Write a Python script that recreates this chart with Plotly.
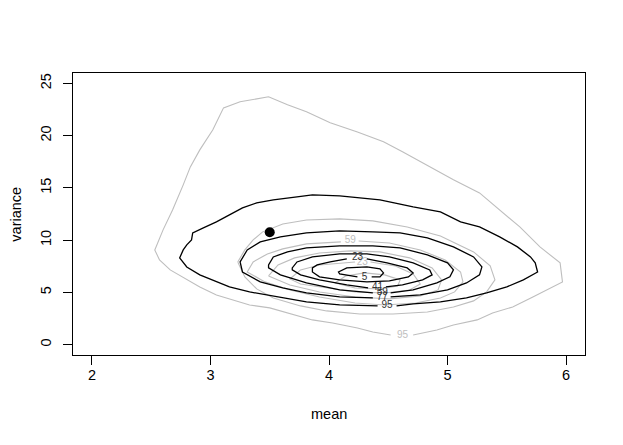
import plotly.graph_objects as go

# ---- data ----
black_levels = ["95", "77", "59", "41", "23", "5"]
black95_x = [4.41, 4.09, 3.81, 3.53, 3.33, 3.16, 3.05, 2.91, 2.80, 2.74, 2.77, 2.80, 2.84, 2.85, 2.94, 3.05, 3.16, 3.27, 3.39, 3.53, 3.73, 3.86, 4.09, 4.26, 4.43, 4.71, 4.94, 5.11, 5.27, 5.44, 5.59, 5.70, 5.74, 5.76, 5.64, 5.50, 5.33, 5.16, 4.94, 4.71, 4.57]
black95_y = [3.70, 3.79, 4.08, 4.66, 5.04, 5.52, 6.00, 6.67, 7.43, 8.30, 9.06, 9.54, 10.02, 10.69, 11.17, 11.74, 12.41, 13.08, 13.56, 13.85, 14.14, 14.33, 14.23, 14.04, 13.85, 13.18, 12.70, 11.74, 11.26, 10.31, 9.35, 8.39, 7.82, 6.95, 6.19, 5.52, 4.94, 4.46, 4.08, 3.89, 3.70]
black77_x = [4.37, 4.09, 3.81, 3.61, 3.42, 3.27, 3.25, 3.31, 3.42, 3.59, 3.81, 4.09, 4.37, 4.60, 4.83, 5.05, 5.22, 5.29, 5.27, 5.16, 5.00, 4.77, 4.52]
black77_y = [4.46, 4.56, 4.94, 5.42, 6.00, 6.95, 7.91, 9.06, 9.83, 10.31, 10.69, 10.88, 10.79, 10.69, 10.21, 9.35, 8.39, 7.43, 6.67, 5.90, 5.23, 4.75, 4.56]
black59_x = [4.37, 4.09, 3.81, 3.59, 3.49, 3.49, 3.53, 3.65, 3.81, 4.09, 4.37, 4.60, 4.83, 5.00, 5.05, 5.02, 4.91, 4.71, 4.52]
black59_y = [4.94, 5.23, 5.90, 6.67, 7.34, 7.62, 8.39, 8.87, 9.25, 9.44, 9.44, 9.25, 8.58, 7.82, 7.15, 6.48, 5.90, 5.23, 4.94]
black41_x = [4.33, 4.15, 3.92, 3.76, 3.69, 3.69, 3.73, 3.86, 4.09, 4.32, 4.51, 4.71, 4.85, 4.87, 4.79, 4.62, 4.48]
black41_y = [5.42, 5.71, 6.19, 6.67, 7.15, 7.34, 7.91, 8.39, 8.68, 8.68, 8.39, 7.82, 7.15, 6.67, 6.19, 5.71, 5.52]
black23_x = [4.32, 4.49, 4.66, 4.71, 4.67, 4.51, 4.32, 4.09, 3.92, 3.86, 3.86, 3.90, 4.01, 4.15]
black23_y = [8.20, 7.82, 7.34, 6.86, 6.48, 6.09, 6.00, 6.19, 6.48, 6.95, 7.34, 7.62, 7.91, 8.20]
black5_x = [4.24, 4.09, 4.08, 4.15, 4.32, 4.43, 4.46, 4.43, 4.36]
black5_y = [6.48, 6.76, 6.95, 7.34, 7.43, 7.24, 6.86, 6.48, 6.48]

gray95_x = [4.52, 4.37, 4.24, 4.03, 3.86, 3.50, 3.33, 3.19, 3.05, 2.91, 2.77, 2.66, 2.57, 2.53, 2.60, 2.68, 2.77, 2.83, 2.91, 3.02, 3.11, 3.25, 3.49, 3.65, 3.81, 4.01, 4.24, 4.46, 4.62, 4.79, 5.05, 5.27, 5.44, 5.61, 5.78, 5.95, 5.97, 5.84, 5.72, 5.55, 5.38, 5.25, 5.05, 4.91, 4.71]
gray95_y = [0.92, 1.21, 1.59, 2.07, 2.36, 3.51, 3.79, 4.27, 4.75, 5.52, 6.48, 7.15, 8.10, 9.06, 10.98, 12.89, 15.29, 17.01, 18.64, 20.56, 22.66, 23.24, 23.72, 22.95, 22.28, 21.23, 20.36, 19.41, 18.45, 17.39, 15.77, 14.52, 12.89, 11.26, 9.35, 7.82, 6.00, 5.23, 4.56, 3.60, 3.03, 2.36, 1.88, 1.40, 0.92]
gray77_x = [3.23, 3.29, 3.36, 3.44, 3.61, 3.81, 4.09, 4.37, 4.66, 4.94, 5.22, 5.36, 5.40, 5.33, 5.22, 5.05, 4.83, 4.54, 4.26, 3.98, 3.76, 3.53, 3.39, 3.29, 3.23]
gray77_y = [7.91, 9.06, 10.02, 10.79, 11.55, 11.93, 12.03, 11.84, 11.26, 10.40, 8.87, 7.53, 6.19, 5.04, 4.18, 3.60, 3.12, 2.93, 2.93, 3.22, 3.70, 4.46, 5.33, 6.48, 7.91]
gray59_x = [4.25, 4.51, 4.77, 4.98, 5.11, 5.13, 5.06, 4.94, 4.73, 4.47, 4.22, 3.92, 3.67, 3.46, 3.31, 3.36, 3.48, 3.61, 3.81, 4.10]
gray59_y = [9.92, 9.73, 9.06, 8.10, 6.95, 6.00, 5.04, 4.46, 3.98, 3.79, 3.98, 4.56, 5.23, 6.00, 6.95, 7.91, 8.68, 9.16, 9.64, 9.83]
gray41_x = [3.49, 3.57, 3.71, 3.92, 4.18, 4.43, 4.68, 4.87, 4.95, 4.92, 4.77, 4.51, 4.22, 3.92, 3.67, 3.49]
gray41_y = [6.57, 7.62, 8.30, 8.77, 8.97, 8.87, 8.30, 7.34, 6.19, 5.23, 4.66, 4.37, 4.56, 5.04, 5.71, 6.57]
gray23_x = [4.35, 4.56, 4.71, 4.77, 4.68, 4.47, 4.22, 3.97, 3.76, 3.67, 3.76, 3.92, 4.22]
gray23_y = [7.91, 7.53, 6.76, 5.80, 5.23, 4.94, 5.04, 5.42, 5.80, 6.28, 7.15, 7.62, 7.91]
gray5_x = [4.05, 4.14, 4.30, 4.47, 4.60, 4.58, 4.43, 4.22, 4.05]
gray5_y = [5.90, 6.57, 6.86, 6.67, 6.19, 5.61, 5.33, 5.42, 5.90]

black_label_text = ["5", "23", "41", "59", "77", "95"]
black_label_x = [4.30, 4.24, 4.41, 4.45, 4.45, 4.49]
black_label_y = [6.38, 8.30, 5.42, 4.94, 4.46, 3.70]
gray_label_text = ["23", "59", "95"]
gray_label_x = [4.28, 4.18, 4.62]
gray_label_y = [7.82, 9.92, 0.82]

point_x = [3.5]
point_y = [10.75]

x_ticks = [2, 3, 4, 5, 6]
y_ticks = [0, 5, 10, 15, 20, 25]
x_title = "mean"
y_title = "variance"

GRAY = "#BEBEBE"
FONT = "Liberation Sans, Arial, Helvetica, sans-serif"

fig = go.Figure()

gray_rings = [(gray95_x, gray95_y), (gray77_x, gray77_y), (gray59_x, gray59_y),
              (gray41_x, gray41_y), (gray23_x, gray23_y), (gray5_x, gray5_y)]
for gx, gy in gray_rings:
    fig.add_trace(go.Scatter(x=gx, y=gy, mode="lines",
                             line=dict(color=GRAY, width=1.1),
                             hoverinfo="skip", showlegend=False))
fig.add_trace(go.Scatter(x=gray_label_x, y=gray_label_y, text=gray_label_text,
                         mode="text", textposition="middle center",
                         textfont=dict(family=FONT, size=10, color=GRAY),
                         hoverinfo="skip", showlegend=False))

black_rings = [(black95_x, black95_y), (black77_x, black77_y), (black59_x, black59_y),
               (black41_x, black41_y), (black23_x, black23_y), (black5_x, black5_y)]
for bx, by in black_rings:
    fig.add_trace(go.Scatter(x=bx, y=by, mode="lines",
                             line=dict(color="black", width=1.3),
                             hoverinfo="skip", showlegend=False))
fig.add_trace(go.Scatter(x=black_label_x, y=black_label_y, text=black_label_text,
                         mode="text", textposition="middle center",
                         textfont=dict(family=FONT, size=10, color="#333333"),
                         hoverinfo="skip", showlegend=False))

fig.add_trace(go.Scatter(x=point_x, y=point_y, mode="markers",
                         marker=dict(color="black", size=10),
                         hoverinfo="skip", showlegend=False))

axis_common = dict(showgrid=False, zeroline=False, showline=True, mirror=True,
                   linecolor="black", linewidth=1, ticks="outside", ticklen=9,
                   tickcolor="black", tickwidth=1,
                   tickfont=dict(family=FONT, size=14.5, color="black"))

# The page body has an 8px margin, so the figure is sized/offset to compensate.
fig.update_layout(
    width=615, height=437,
    margin=dict(l=65, r=38, t=65, b=90),
    paper_bgcolor="white", plot_bgcolor="white",
    xaxis=dict(range=[1.84, 6.16], tickvals=x_ticks, ticktext=[str(v) for v in x_ticks],
               ticklabelstandoff=-2, **axis_common),
    yaxis=dict(range=[-1, 26], tickvals=y_ticks, ticktext=[str(v) for v in y_ticks],
               tickangle=-90, ticklabelstandoff=6, **axis_common),
    annotations=[
        dict(text=x_title, xref="paper", yref="paper", x=0.5, y=-0.209,
             xanchor="center", yanchor="middle", showarrow=False,
             font=dict(family=FONT, size=14.5, color="black")),
        dict(text=y_title, xref="paper", yref="paper", x=-0.112, y=0.5,
             xanchor="center", yanchor="middle", textangle=-90, showarrow=False,
             font=dict(family=FONT, size=14.5, color="black")),
    ],
)

fig.write_html("out.html")
